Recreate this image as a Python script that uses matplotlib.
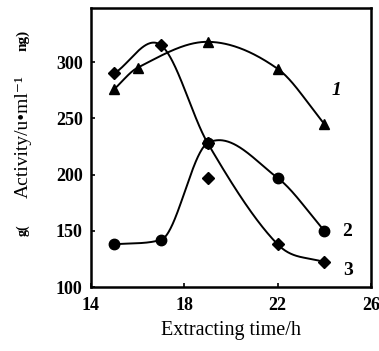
import numpy as np
import matplotlib
matplotlib.use("Agg")
import matplotlib.pyplot as plt

# extraction time (h) and enzyme activity for the three runs
hours_1 = [15, 16, 19, 22, 24]
activity_1 = [276, 295, 318, 294, 245]

hours_2 = [15, 17, 19, 22, 24]
activity_2 = [138, 142, 228, 197, 150]

hours_3 = [15, 17, 19, 22, 24]
activity_3 = [290, 315, 228, 138, 122]

# single off-curve measurement at 19 h
extra_hours = [19]
extra_activity = [197]

curve_labels = ["1", "2", "3"]
label_x = [24.3, 24.75, 24.8]
label_y = [275, 149, 115]


def smooth_curve(x, y, n=300):
    """cubic Hermite through the points, Catmull-Rom slopes with overshoot limit"""
    x = np.asarray(x, float)
    y = np.asarray(y, float)
    d = np.diff(y) / np.diff(x)
    m = np.empty_like(y)
    m[0], m[-1] = d[0], d[-1]
    for i in range(1, len(x) - 1):
        m[i] = (y[i + 1] - y[i - 1]) / (x[i + 1] - x[i - 1])
        if d[i - 1] * d[i] > 0:
            lim = 3 * min(abs(d[i - 1]), abs(d[i]))
            m[i] = np.sign(m[i]) * min(abs(m[i]), lim)
    xs = np.linspace(x[0], x[-1], n)
    idx = np.clip(np.searchsorted(x, xs) - 1, 0, len(x) - 2)
    h = x[idx + 1] - x[idx]
    t = (xs - x[idx]) / h
    h00 = 2 * t ** 3 - 3 * t ** 2 + 1
    h10 = t ** 3 - 2 * t ** 2 + t
    h01 = -2 * t ** 3 + 3 * t ** 2
    h11 = t ** 3 - t ** 2
    ys = h00 * y[idx] + h10 * h * m[idx] + h01 * y[idx + 1] + h11 * h * m[idx + 1]
    return xs, ys


plt.rcParams["font.family"] = ["Liberation Serif", "DejaVu Serif"]

fig = plt.figure(figsize=(3.79, 3.51), dpi=100)
ax = fig.add_axes([0.240, 0.182, 0.739, 0.795])

for hx, hy, marker, ms in [(hours_1, activity_1, "^", 7.5),
                           (hours_2, activity_2, "o", 7.5),
                           (hours_3, activity_3, "D", 6.5)]:
    sx, sy = smooth_curve(hx, hy)
    ax.plot(sx, sy, color="black", lw=1.4)
    ax.plot(hx, hy, linestyle="none", marker=marker, ms=ms, color="black")

ax.plot(extra_hours, extra_activity, linestyle="none", marker="D", ms=6.5, color="black")

for txt, lx, ly in zip(curve_labels, label_x, label_y):
    style = "italic" if txt == "1" else "normal"
    ax.text(lx, ly, txt, fontsize=14, fontweight="bold", style=style,
            ha="left", va="center")

ax.set_xlim(14, 26)
ax.set_ylim(100, 348)
ax.set_xticks([14, 18, 22, 26])
ax.set_yticks([100, 150, 200, 250, 300])
ax.tick_params(direction="in", length=3, width=1.2, labelsize=13)
ax.tick_params(axis="x", pad=7)
ax.tick_params(axis="y", pad=6)
for lab in ax.get_xticklabels() + ax.get_yticklabels():
    lab.set_fontweight("bold")
for sp in ax.spines.values():
    sp.set_linewidth(1.8)

ax.set_xlabel("Extracting time/h", fontsize=14.5, labelpad=5)

# y axis title, printed in three pieces
fig.text(0.061, 0.61, "Activity/u\u2022ml\u207b\u00b9", rotation=90, fontsize=14,
         ha="center", va="center")
fig.text(0.061, 0.885, "ng)", rotation=90, fontsize=11, fontweight="bold",
         ha="center", va="center")
fig.text(0.061, 0.345, "g(", rotation=90, fontsize=10, fontweight="bold",
         ha="center", va="center")

fig.savefig("out.png", dpi=100)
